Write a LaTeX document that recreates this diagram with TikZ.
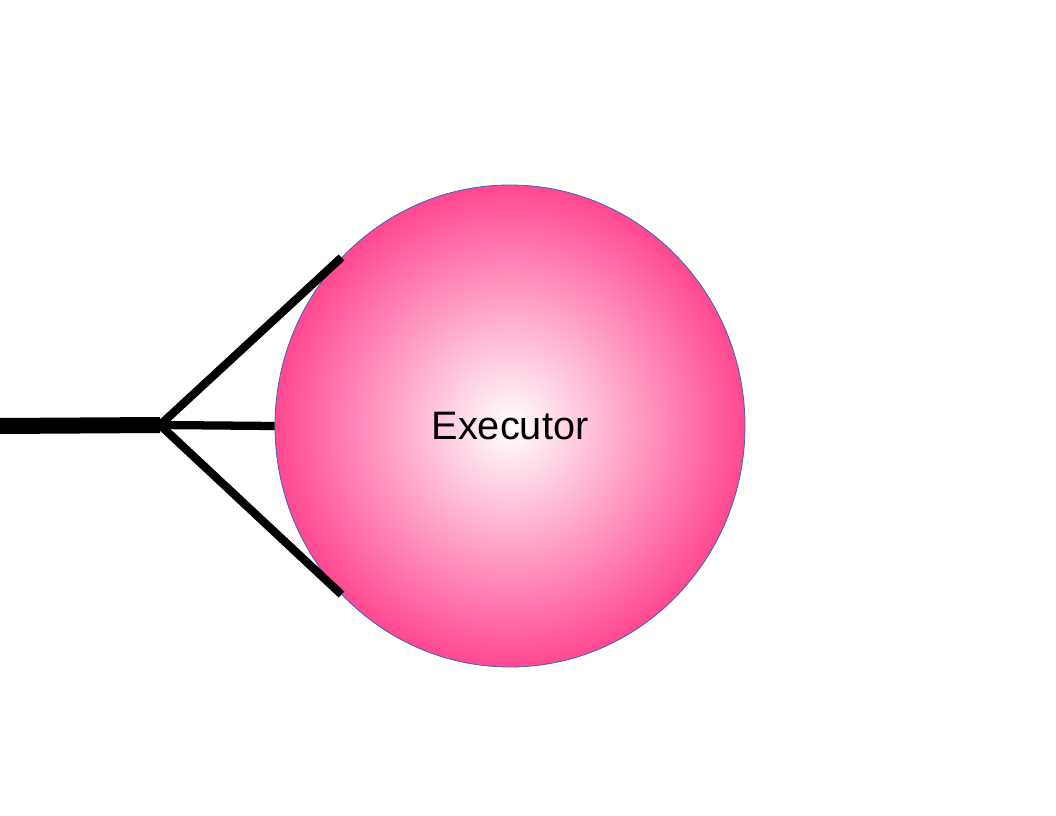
\documentclass[tikz,border=0pt]{standalone}
\usepackage{fontspec}
\setmainfont{Liberation Sans}
\usetikzlibrary{shapes.geometric}
\definecolor{pinkedge}{RGB}{255,72,145}
\definecolor{rimblue}{RGB}{60,100,180}
\tikzset{
  execnode/.style={ellipse, inner sep=0pt, minimum width=352.5pt, minimum height=361.5pt,
    draw=rimblue, line width=0.6pt, shading=radial, inner color=white, outer color=pinkedge,
    font=\fontsize{29.8}{36}\selectfont},
  thickwire/.style={line width=12pt, black},
  thinwire/.style={line width=6.2pt, black}
}
\begin{document}
\begin{tikzpicture}[x=0.75pt,y=-0.75pt]
\useasboundingbox (0,0) rectangle (1056,816);
\node[execnode] (exec) at (510,426) {Executor};
\coordinate (tail) at (0,426);
\coordinate (hub) at (160,425);
\draw[thickwire] (tail) -- (hub);
\draw[thinwire] (hub) -- (exec.west);
\draw[thinwire] (hub) -- (exec.135);
\draw[thinwire] (hub) -- (exec.225);
\end{tikzpicture}
\end{document}
